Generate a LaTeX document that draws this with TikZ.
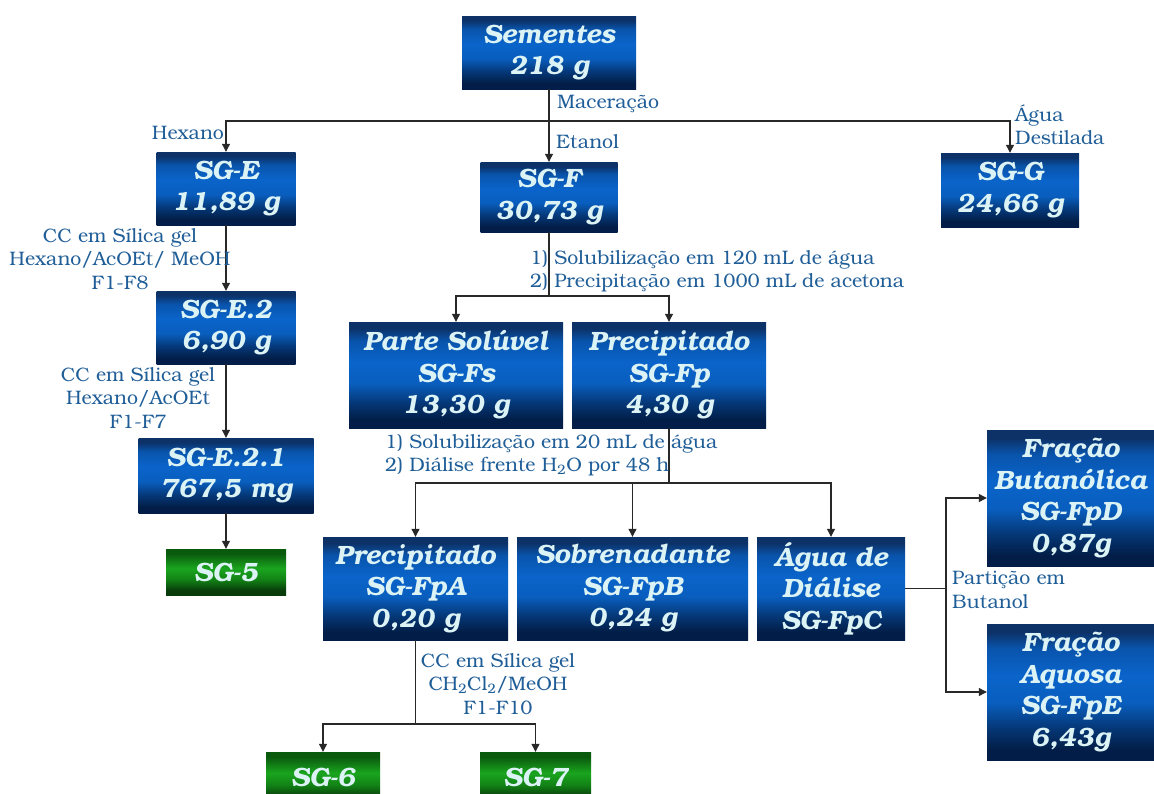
\documentclass[tikz,border=0pt]{standalone}
\usepackage{fontspec}
\setmainfont{texgyrebonum}[Extension=.otf, UprightFont=*-regular, BoldFont=*-bold, ItalicFont=*-italic, BoldItalicFont=*-bolditalic]
\usetikzlibrary{arrows.meta}
\definecolor{lbl}{RGB}{32,94,152}
\definecolor{txt}{RGB}{220,243,246}
\definecolor{ln}{RGB}{40,40,40}
\definecolor{bA}{RGB}{2,30,72}
\definecolor{bB}{RGB}{5,56,120}
\definecolor{bC}{RGB}{9,94,190}
\definecolor{bD}{RGB}{10,100,202}
\definecolor{bE}{RGB}{9,84,172}
\definecolor{bF}{RGB}{12,50,104}
\definecolor{gA}{RGB}{8,60,10}
\definecolor{gB}{RGB}{18,130,22}
\definecolor{gC}{RGB}{26,165,30}
\definecolor{gE}{RGB}{10,90,14}
\pgfdeclareverticalshading{bluegrad}{100bp}{color(0bp)=(bA); color(25bp)=(bA); color(29bp)=(bA); color(37bp)=(bB); color(46bp)=(bC); color(56bp)=(bD); color(66bp)=(bE); color(72bp)=(bF); color(75bp)=(bF); color(100bp)=(bF)}
\pgfdeclareverticalshading{greengrad}{100bp}{color(0bp)=(gA); color(25bp)=(gA); color(30bp)=(gA); color(42bp)=(gB); color(54bp)=(gC); color(70bp)=(gE); color(75bp)=(gE); color(100bp)=(gE)}
\newcommand{\boxfnt}{\fontsize{26.5}{31.5}\selectfont\bfseries\itshape}
\newcommand{\lblfnt}{\fontsize{19.5}{23.5}\selectfont}
\tikzset{
  bx/.style={shading=bluegrad, inner sep=0pt, align=center, text=txt, font=\boxfnt},
  gbx/.style={shading=greengrad, inner sep=0pt, align=center, text=txt, font=\boxfnt},
  lab/.style={inner sep=0pt, text=lbl, font=\lblfnt},
  conn/.style={draw=ln, line width=1.1pt},
  arr/.style={conn, -{Triangle[length=8pt,width=8pt]}}
}
\begin{document}
\begin{tikzpicture}[x=1pt,y=-1pt]
\useasboundingbox (0,0) rectangle (1154,793);
\clip (0,0) rectangle (1154,793);
% boxes
\node[bx, minimum width=174pt, minimum height=73pt] (sem) at (549,52.5) {Sementes\\218 g};
\node[bx, minimum width=139pt, minimum height=73pt] (sge) at (226,188.5) {SG-E\\11,89 g};
\node[bx, minimum width=137pt, minimum height=70pt] (sgf) at (549,197) {SG-F\\30,73 g};
\node[bx, minimum width=138pt, minimum height=74pt] (sgg) at (1010,190) {SG-G\\24,66 g};
\node[bx, minimum width=139pt, minimum height=73pt] (sge2) at (226,327.5) {SG-E.2\\6,90 g};
\node[bx, minimum width=175pt, minimum height=75pt] (sge21) at (226,475.5) {SG-E.2.1\\767,5 mg};
\node[gbx, minimum width=120pt, minimum height=46pt] (sg5) at (226,572) {SG-5};
\node[bx, minimum width=214pt, minimum height=106pt] (ps) at (456,375) {Parte Solúvel\\SG-Fs\\13,30 g};
\node[bx, minimum width=194pt, minimum height=106pt] (fp) at (669,375) {Precipitado\\SG-Fp\\4,30 g};
\node[bx, minimum width=185pt, minimum height=103pt] (fpa) at (415.5,588.5) {Precipitado\\SG-FpA\\0,20 g};
\node[bx, minimum width=231pt, minimum height=103pt] (fpb) at (632.5,588.5) {Sobrenadante\\SG-FpB\\0,24 g};
\node[bx, minimum width=148pt, minimum height=103pt] (fpc) at (831,588.5) {Água de\\Diálise\\SG-FpC};
\node[bx, minimum width=167pt, minimum height=136pt] (fpd) at (1070.5,498) {Fração\\Butanólica\\SG-FpD\\0,87g};
\node[bx, minimum width=167pt, minimum height=136pt] (fpe) at (1070.5,692) {Fração\\Aquosa\\SG-FpE\\6,43g};
\node[gbx, minimum width=114pt, minimum height=50pt] (sg6) at (323,777) {SG-6};
\node[gbx, minimum width=111pt, minimum height=50pt] (sg7) at (535.5,777) {SG-7};
% junctions
\coordinate (j1) at (549,121);
\coordinate (j2) at (549,296);
\coordinate (j3) at (669,483);
\coordinate (j4) at (946,588.5);
\coordinate (j5) at (415.5,724);
% connectors
\draw[conn] (sem.south) -- (j1);
\draw[arr] (j1) -| (sge.north);
\draw[arr] (j1) -| (sgg.north);
\draw[arr] (j1) -- (sgf.north);
\draw[arr] (sge.south) -- (sge2.north);
\draw[arr] (sge2.south) -- (sge21.north);
\draw[arr] (sge21.south) -- (sg5.north);
\draw[conn] (sgf.south) -- (j2);
\draw[arr] (j2) -| (ps.north);
\draw[arr] (j2) -| (fp.north);
\draw[conn] (fp.south) -- (j3);
\draw[arr] (j3) -| (fpa.north);
\draw[arr] (j3) -| (fpb.north);
\draw[arr] (j3) -| (fpc.north);
\draw[conn] (fpc.east) -- (j4);
\draw[arr] (j4) |- (fpd.west);
\draw[arr] (j4) |- (fpe.west);
\draw[conn] (fpa.south) -- (j5);
\draw[arr] (j5) -| (sg6.north);
\draw[arr] (j5) -| (sg7.north);
% labels
\node[lab, anchor=west] (lmac) at (557,104) {Maceração};
\node[lab, anchor=east] (lhex) at (224,133) {Hexano};
\node[lab, anchor=west] (leta) at (556,142) {Etanol};
\node[lab, anchor=west, align=left] (lagua) at (1015,125) {Água\\Destilada};
\node[lab, align=center] (lcc1) at (120,259) {CC em Sílica gel\\Hexano/AcOEt/ MeOH\\F1-F8};
\node[lab, align=center] (lcc2) at (138,398) {CC em Sílica gel\\Hexano/AcOEt\\F1-F7};
\node[lab, anchor=west, align=left] (lsol1) at (530,271) {1) Solubilização em 120 mL de água\\2) Precipitação em 1000 mL de acetona};
\node[lab, anchor=west, align=left] (lsol2) at (385,455) {1) Solubilização em 20 mL de água\\2) Diálise frente H\textsubscript{2}O por 48 h};
\node[lab, align=center] (lcc3) at (498,684) {CC em Sílica gel\\CH\textsubscript{2}Cl\textsubscript{2}/MeOH\\F1-F10};
\node[lab, anchor=west, align=left] (lpart) at (952,590) {Partição em\\Butanol};
\end{tikzpicture}
\end{document}
